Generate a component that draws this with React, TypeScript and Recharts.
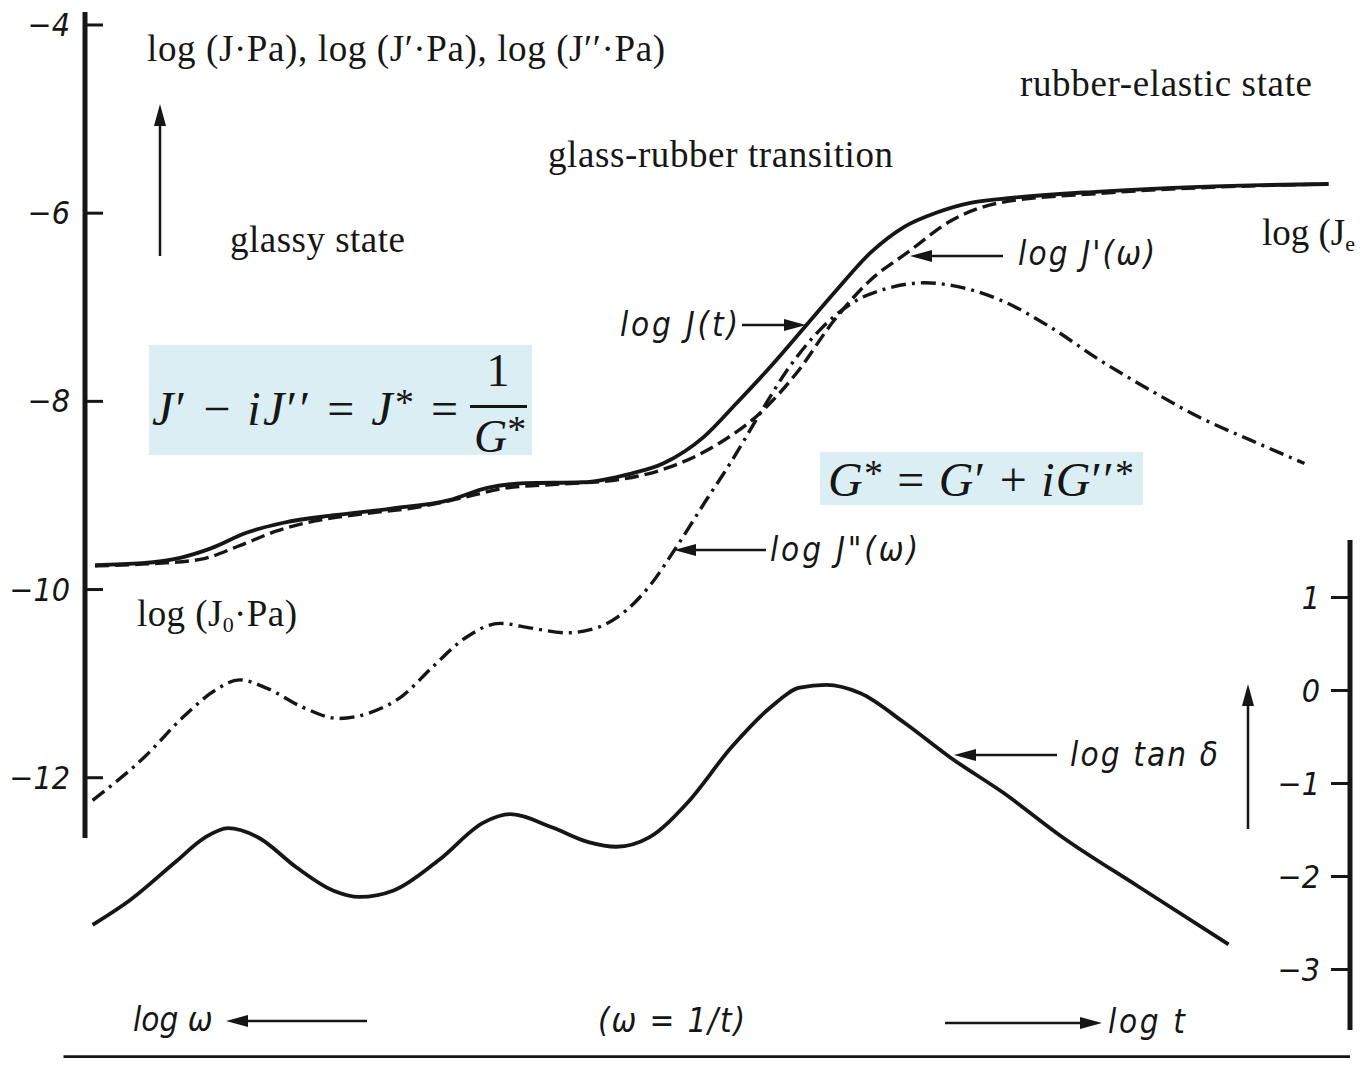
import { Line, LineChart, ReferenceLine, XAxis, YAxis } from "recharts"

const W = 1363
const H = 1066

// log t in arbitrary units: 0 = left frame, 100 = right frame
const creepT = [0.8, 4.5, 7.6, 10.0, 12.7, 15.7, 19.7, 24.2, 28.8, 31.8, 34.8, 39.3, 43.1, 45.7, 48.9, 51.5, 54.2, 56.9, 59.4, 62.1, 64.7, 67.4, 70.0, 72.3, 80.2, 88.1, 98.3]
const logJt = [-9.74, -9.72, -9.66, -9.56, -9.4, -9.29, -9.21, -9.14, -9.05, -8.92, -8.87, -8.86, -8.77, -8.66, -8.38, -8.02, -7.63, -7.21, -6.82, -6.42, -6.15, -5.99, -5.89, -5.85, -5.77, -5.72, -5.69]

const storageT = [0.8, 4.5, 9.1, 12.1, 15.1, 18.2, 21.7, 26.5, 30.3, 33.3, 37.5, 42.3, 46.2, 50.2, 53.4, 56.3, 59.1, 62.1, 65.0, 68.6, 72.3, 80.2, 88.1, 98.3]
const logJ1 = [-9.75, -9.73, -9.68, -9.54, -9.38, -9.27, -9.2, -9.12, -9.01, -8.92, -8.88, -8.83, -8.7, -8.44, -8.12, -7.69, -7.16, -6.71, -6.42, -6.07, -5.89, -5.79, -5.73, -5.69]

const lossT = [0.6, 4.7, 7.8, 10.3, 12.2, 14.4, 17.2, 20.0, 22.5, 25.0, 27.5, 30.0, 32.8, 35.3, 38.1, 40.6, 42.8, 44.7, 46.6, 49.2, 51.0, 53.4, 55.5, 58.1, 60.7, 63.4, 66.4, 68.6, 72.3, 76.3, 80.2, 84.2, 88.1, 92.1, 96.4]
const logJ2 = [-12.24, -11.78, -11.35, -11.07, -10.96, -11.05, -11.25, -11.37, -11.31, -11.14, -10.82, -10.52, -10.36, -10.41, -10.46, -10.4, -10.22, -9.95, -9.58, -9.03, -8.66, -8.12, -7.67, -7.24, -6.95, -6.8, -6.74, -6.77, -6.92, -7.21, -7.56, -7.88, -8.17, -8.41, -8.66]

const tanT = [0.6, 3.6, 7.1, 9.5, 11.3, 13.7, 16.7, 19.6, 21.7, 24.4, 28.0, 31.5, 33.6, 36.9, 39.8, 42.0, 44.6, 47.6, 51.1, 54.2, 56.5, 58.6, 61.3, 64.8, 68.4, 72.6, 77.3, 83.3, 90.4]
const logTan = [-2.52, -2.25, -1.85, -1.58, -1.48, -1.58, -1.9, -2.15, -2.22, -2.15, -1.82, -1.42, -1.33, -1.47, -1.63, -1.68, -1.58, -1.21, -0.61, -0.18, 0.03, 0.06, -0.03, -0.35, -0.72, -1.1, -1.58, -2.11, -2.73]

const leftTicks = [-12, -10, -8, -6, -4]
const rightTicks = [-3, -2, -1, 0, 1]

const zip = (xs: number[], ys: number[]) => xs.map((x, i) => ({ x, y: ys[i] }))

const INK = "#161616"
const SANS = "'DejaVu Sans Condensed', 'DejaVu Sans', sans-serif"
const SERIF = "'Liberation Serif', 'Times New Roman', serif"
const MATH = "'Liberation Serif', serif"

const AXIS_L = 85
const AXIS_R = 1350

const fmt = (v: number) => (v < 0 ? "\u2212" + Math.abs(v) : String(v))

function LeftTick(props: any) {
  const { y, payload } = props
  return (
    <g>
      <line x1={AXIS_L} x2={AXIS_L + 18} y1={y} y2={y} stroke={INK} strokeWidth={3} />
      <text x={70} y={y + 11} textAnchor="end" fontFamily={SANS} fontStyle="italic" fontSize={32} fill={INK}>
        {fmt(payload.value)}
      </text>
    </g>
  )
}

function RightTick(props: any) {
  const { y, payload } = props
  return (
    <g>
      <line x1={AXIS_R - 19} x2={AXIS_R} y1={y} y2={y} stroke={INK} strokeWidth={3} />
      <text x={1320} y={y + 11} textAnchor="end" fontFamily={SANS} fontStyle="italic" fontSize={32} fill={INK}>
        {fmt(payload.value)}
      </text>
    </g>
  )
}

function Arrow({ x1, y1, x2, y2, w = 2.5 }: { x1: number; y1: number; x2: number; y2: number; w?: number }) {
  const dx = x2 - x1
  const dy = y2 - y1
  const len = Math.hypot(dx, dy)
  const ux = dx / len
  const uy = dy / len
  const hl = 22
  const hw = 6
  const bx = x2 - ux * hl
  const by = y2 - uy * hl
  return (
    <g>
      <line x1={x1} y1={y1} x2={bx} y2={by} stroke={INK} strokeWidth={w} />
      <polygon
        points={`${x2},${y2} ${bx - uy * hw},${by + ux * hw} ${bx + uy * hw},${by - ux * hw}`}
        fill={INK}
      />
    </g>
  )
}

// raised star used in the formulas
const Star = () => (
  <tspan fontSize={38} dy={-10}>*</tspan>
)

function Annotations() {
  const it = { fontFamily: SANS, fontStyle: "italic" as const, fontSize: 33, fill: INK }
  const rm = { fontFamily: SERIF, fontSize: 37, fill: INK }
  return (
    <svg width={W} height={H} style={{ position: "absolute", left: 0, top: 0, pointerEvents: "none" }}>
      <text x={147} y={61} {...rm} textLength={518}>log (J·Pa), log (J′·Pa), log (J′′·Pa)</text>
      <text x={230} y={252} {...rm} textLength={175}>glassy state</text>
      <text x={548} y={167} {...rm} textLength={345}>glass-rubber transition</text>
      <text x={1020} y={96} {...rm} textLength={292}>rubber-elastic state</text>
      <text x={1262} y={245} {...rm}>
        log (J<tspan fontSize={22} dy={6}>e</tspan>
      </text>
      <text x={137} y={626} {...rm} textLength={160}>
        log (J<tspan fontSize={22} dy={6}>0</tspan><tspan dy={-6}>·Pa)</tspan>
      </text>

      <Arrow x1={160} y1={256} x2={160} y2={104} />
      <Arrow x1={1248} y1={829} x2={1248} y2={684} />

      <text x={620} y={336} {...it} textLength={118}>log J(t)</text>
      <Arrow x1={742} y1={325} x2={806} y2={325} />
      <text x={1018} y={265} {...it} textLength={137}>log J'(ω)</text>
      <Arrow x1={1003} y1={256} x2={910} y2={256} />
      <text x={770} y={561} {...it} textLength={148}>log J"(ω)</text>
      <Arrow x1={766} y1={550} x2={674} y2={550} />
      <text x={1070} y={766} {...it} textLength={148}>log tan δ</text>
      <Arrow x1={1057} y1={755} x2={954} y2={755} />

      <text x={133} y={1031} {...it}>log ω</text>
      <Arrow x1={367} y1={1021} x2={226} y2={1021} />
      <text x={598} y={1032} {...it} textLength={147}>(ω = 1/t)</text>
      <Arrow x1={945} y1={1023} x2={1102} y2={1023} />
      <text x={1108} y={1033} {...it} textLength={77}>log t</text>

      <rect x={149} y={345} width={383} height={110} fill="#DAEEF3" />
      <text x={152} y={425} fontFamily={MATH} fontSize={48} fill={INK} textLength={306}>
        <tspan fontStyle="italic">J</tspan>′ − <tspan fontStyle="italic">iJ</tspan>′′ = <tspan fontStyle="italic">J</tspan>
        <Star />
        <tspan dy={10}> =</tspan>
      </text>
      <text x={498} y={386} fontFamily={MATH} fontSize={46} fill={INK} textAnchor="middle">1</text>
      <rect x={470} y={405} width={57} height={3} fill={INK} />
      <text x={474} y={452} fontFamily={MATH} fontSize={46} fill={INK}>
        <tspan fontStyle="italic">G</tspan>
        <Star />
      </text>

      <rect x={820} y={452} width={323} height={53} fill="#DAEEF3" />
      <text x={828} y={496} fontFamily={MATH} fontSize={48} fill={INK} textLength={306}>
        <tspan fontStyle="italic">G</tspan>
        <Star />
        <tspan dy={10}> = </tspan>
        <tspan fontStyle="italic">G</tspan>′ + <tspan fontStyle="italic">iG</tspan>′′
        <Star />
      </text>
    </svg>
  )
}

export default function App() {
  return (
    <div style={{ position: "relative", width: W, height: H, margin: -8, background: "#fff" }}>
      <LineChart width={W} height={H} margin={{ top: 12, right: 0, bottom: 6, left: AXIS_L - 60 }}>
        <XAxis type="number" dataKey="x" domain={[0, 100]} allowDataOverflow hide />
        <YAxis
          yAxisId="left"
          type="number"
          domain={[-15, -3.862]}
          allowDataOverflow
          ticks={leftTicks}
          interval={0}
          width={60}
          axisLine={false}
          tickLine={false}
          tick={<LeftTick />}
        />
        <YAxis
          yAxisId="right"
          orientation="right"
          type="number"
          domain={[-3.973, 7.296]}
          allowDataOverflow
          ticks={rightTicks}
          interval={0}
          width={W - AXIS_R}
          axisLine={false}
          tickLine={false}
          tick={<RightTick />}
        />
        <ReferenceLine yAxisId="left" ifOverflow="visible" segment={[{ x: 0, y: -3.862 }, { x: 0, y: -12.64 }]} stroke={INK} strokeWidth={5} />
        <ReferenceLine yAxisId="right" ifOverflow="visible" segment={[{ x: 100, y: 1.618 }, { x: 100, y: -3.651 }]} stroke={INK} strokeWidth={5} />
        <ReferenceLine yAxisId="left" ifOverflow="visible" segment={[{ x: -1.7, y: -14.97 }, { x: 100, y: -14.97 }]} stroke={INK} strokeWidth={4} />

        <Line yAxisId="left" data={zip(creepT, logJt)} dataKey="y" type="monotone" stroke={INK} strokeWidth={3.8} dot={false} isAnimationActive={false} />
        <Line yAxisId="left" data={zip(storageT, logJ1)} dataKey="y" type="monotone" stroke={INK} strokeWidth={3.4} strokeDasharray="14 6" dot={false} isAnimationActive={false} />
        <Line yAxisId="left" data={zip(lossT, logJ2)} dataKey="y" type="monotone" stroke={INK} strokeWidth={3.4} strokeDasharray="15 6 3 6" dot={false} isAnimationActive={false} />
        <Line yAxisId="right" data={zip(tanT, logTan)} dataKey="y" type="monotone" stroke={INK} strokeWidth={3.8} dot={false} isAnimationActive={false} />
      </LineChart>
      <Annotations />
    </div>
  )
}
